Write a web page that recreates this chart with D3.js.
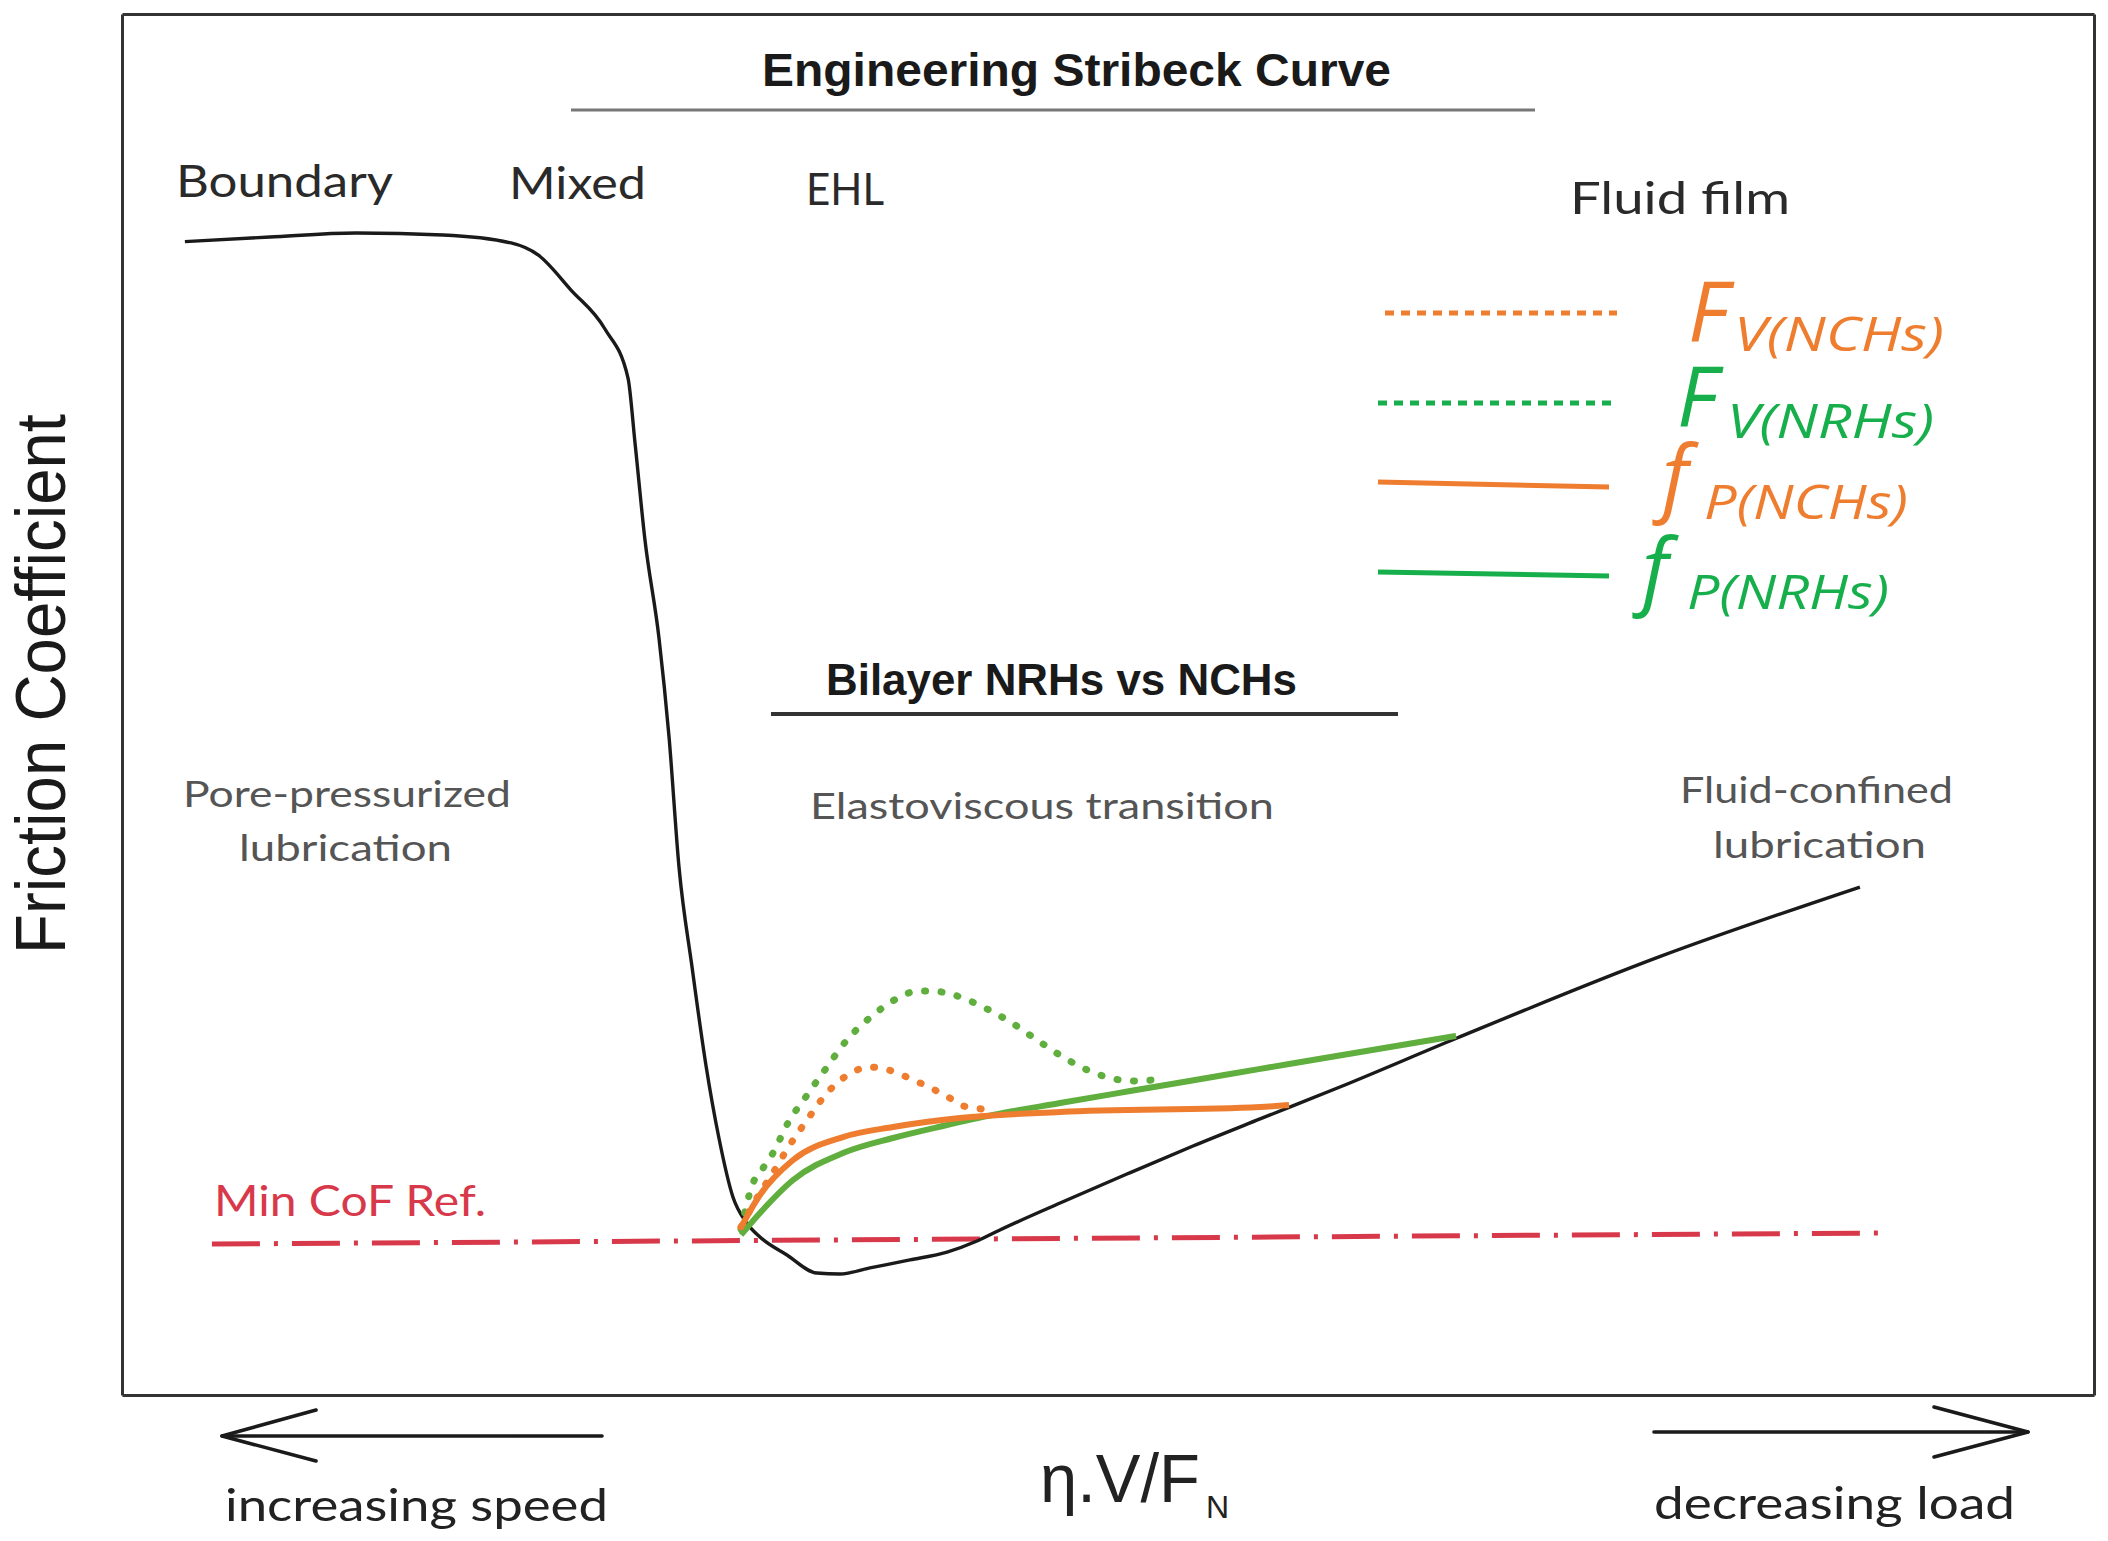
<!DOCTYPE html>
<html>
<head>
<meta charset="utf-8">
<script src="https://cdn.jsdelivr.net/npm/d3@7"></script>
<style>
html,body{margin:0;padding:0;background:#fff;}
svg{display:block;}
</style>
</head>
<body>
<svg id="chart" width="2108" height="1541"></svg>
<script>
// ---------------- DATA (x: relative η·V/F_N 0–100, y: relative friction coefficient 0–100) ----------------
const stribeckCurve = [[3.19,83.52],[7.5,83.85],[11.87,84.14],[16.28,84.00],[19.73,83.42],[21.10,82.55],[22.77,80.01],[24.49,77.19],[25.66,73.64],[26.01,69.01],[26.52,61.91],[27.23,54.82],[27.74,47.65],[28.25,38.16],[28.90,31.06],[29.61,23.90],[30.27,18.61],[30.98,14.34],[31.64,12.53],[32.35,11.44],[33.72,10.14],[35.24,8.83],[36.41,8.76],[37.93,9.20],[39.96,9.78],[41.84,10.35],[43.36,11.15],[44.52,11.95],[47.57,13.90],[50.96,16.00],[54.31,18.03],[57.71,19.99],[61.76,22.30],[67.70,25.85],[77.94,31.72],[88.13,36.78]];
const fvNCHs = [[31.39,12.17],[32.35,14.63],[33.01,16.08],[33.77,17.89],[34.74,19.91],[35.75,21.87],[37.07,23.39],[37.83,23.75],[38.69,23.61],[39.55,23.17],[40.37,22.66],[41.89,21.58],[42.65,20.93],[44.27,20.64]];
const fvNRHs = [[31.39,12.02],[32.00,15.35],[32.51,16.44],[33.01,17.52],[33.77,19.70],[34.74,21.72],[35.75,23.75],[36.76,25.71],[38.03,27.44],[39.45,28.82],[40.31,29.25],[41.13,29.25],[41.99,29.04],[43.66,28.10],[45.13,26.94],[46.55,25.56],[47.97,24.26],[49.59,23.17],[51.27,22.74],[52.79,22.88]];
const fpNCHs = [[31.34,12.02],[32.35,14.48],[34.03,17.02],[36.56,18.68],[39.10,19.41],[42.49,20.06],[47.57,20.49],[57.71,20.85],[59.18,21.00]];
const fpNRHs = [[31.39,11.59],[32.35,13.18],[34.03,15.57],[36.56,17.52],[39.10,18.61],[41.63,19.48],[44.17,20.28],[47.57,21.14],[51.12,22.01],[56.19,23.24],[59.18,23.97],[67.65,26.00]];
const minCofRef = [[4.56,10.93],[89.15,11.73]];

const legendSymbols = ["F","F","f","f"];
const legendSubscripts = ["V(NCHs)","V(NRHs)","P(NCHs)","P(NRHs)"];
const regimeLabels = ["Boundary","Mixed","EHL","Fluid film"];
const mechanismLabels = [["Pore-pressurized","lubrication"],["Elastoviscous transition"],["Fluid-confined","lubrication"]];

// ---------------- LAYOUT ----------------
const svg = d3.select("#chart");
const frame = {left:122, top:14, right:2094, bottom:1395};
const x = d3.scaleLinear().domain([0,100]).range([frame.left, frame.right]);
const y = d3.scaleLinear().domain([0,100]).range([frame.bottom, frame.top]);

const ORANGE = "#EE7D2F", GREEN_C = "#5FAE3E", GREEN_L = "#17AF4C", RED = "#D8394A", INK = "#262626";
const calib = "Lato, 'Open Sans', sans-serif";
const narrow = "'Liberation Sans Narrow', 'Liberation Sans', Arial, sans-serif";
const ital = "'Open Sans', 'Noto Sans', sans-serif";

// Frame via axes (no ticks)
const axes = svg.append("g").attr("class","frame");
axes.append("g").attr("transform",`translate(0,${frame.bottom})`).call(d3.axisBottom(x).tickValues([]).tickSizeOuter(0));
axes.append("g").attr("transform",`translate(0,${frame.top})`).call(d3.axisTop(x).tickValues([]).tickSizeOuter(0));
axes.append("g").attr("transform",`translate(${frame.left},0)`).call(d3.axisLeft(y).tickValues([]).tickSizeOuter(0));
axes.append("g").attr("transform",`translate(${frame.right},0)`).call(d3.axisRight(y).tickValues([]).tickSizeOuter(0));
axes.selectAll(".domain").attr("stroke","#333").attr("stroke-width",3);

function txt(t, px, py, opt){
  const e = svg.append("text").attr("x",px).attr("y",py).text(t)
    .attr("font-family",opt.font||calib).attr("font-size",opt.size)
    .attr("fill",opt.fill||INK).attr("font-weight",opt.weight||"normal")
    .attr("font-style",opt.style||"normal");
  if(opt.width){ e.attr("textLength",opt.width).attr("lengthAdjust",opt.adjust||"spacingAndGlyphs"); }
  return e;
}

// Title + underline
txt("Engineering Stribeck Curve", 762, 86, {font:narrow, size:47, weight:"bold", width:629, fill:"#1a1a1a"});
svg.append("line").attr("x1",571).attr("x2",1535).attr("y1",110).attr("y2",110).attr("stroke","#777").attr("stroke-width",3);

// Regime labels
const regimePos = [[176,197,217],[509,199,137],[806,205,78],[1570,214,220]];
regimeLabels.forEach((t,i)=>txt(t, regimePos[i][0], regimePos[i][1], {size:45, width:regimePos[i][2], fill:"#2a2a2a"}));

// Bilayer subtitle + underline
txt("Bilayer NRHs vs NCHs", 826, 695, {font:narrow, size:45, weight:"bold", width:471, fill:"#1a1a1a"});
svg.append("line").attr("x1",771).attr("x2",1398).attr("y1",714).attr("y2",714).attr("stroke","#333").attr("stroke-width",4);

// Mechanism labels
const mechPos = [[[183,807,328],[239,861,213]],[[810,819,464]],[[1680,803,273],[1713,858,213]]];
mechanismLabels.forEach((lines,i)=>lines.forEach((t,j)=>txt(t, mechPos[i][j][0], mechPos[i][j][1], {size:37, width:mechPos[i][j][2], fill:"#555"})));

// Min CoF label
txt("Min CoF Ref.", 214, 1216, {size:42, width:272, fill:RED});

// Curves
const smooth = d3.line().x(d=>x(d[0])).y(d=>y(d[1])).curve(d3.curveMonotoneX);
const straight = d3.line().x(d=>x(d[0])).y(d=>y(d[1]));

svg.append("path").datum(minCofRef).attr("d",straight).attr("fill","none")
  .attr("stroke",RED).attr("stroke-width",5).attr("stroke-dasharray","48 14 4 14");

svg.append("path").datum(stribeckCurve).attr("d",smooth).attr("fill","none")
  .attr("stroke","#1a1a1a").attr("stroke-width",3.4).attr("stroke-linejoin","round");

svg.append("path").datum(fvNRHs).attr("d",smooth).attr("fill","none")
  .attr("stroke",GREEN_C).attr("stroke-width",7).attr("stroke-linecap","round").attr("stroke-dasharray","1 15.5");
svg.append("path").datum(fvNCHs).attr("d",smooth).attr("fill","none")
  .attr("stroke",ORANGE).attr("stroke-width",7).attr("stroke-linecap","round").attr("stroke-dasharray","1 15.5");
svg.append("path").datum(fpNRHs).attr("d",smooth).attr("fill","none")
  .attr("stroke",GREEN_C).attr("stroke-width",6);
svg.append("path").datum(fpNCHs).attr("d",smooth).attr("fill","none")
  .attr("stroke",ORANGE).attr("stroke-width",6);

// Legend: sample lines + one stacked label block
const legendColors = [ORANGE, GREEN_L, ORANGE, GREEN_L];
const legendDash = ["9 7","9 7",null,null];
const legendLinePos = [[1385,1617,313,313],[1378,1611,403,403],[1378,1609,482,487],[1378,1609,572,576]];
const legendMainPos = [[1688,342],[1677,427],[1662,506],[1642,599]];
const legendSubPos = [[1734,351,210],[1727,438,207],[1704,519,204],[1687,609,202]];
const legendText = svg.append("text").attr("font-family",ital).attr("font-style","italic");
legendSymbols.forEach((s,i)=>{
  const lp = legendLinePos[i];
  const l = svg.append("line").attr("x1",lp[0]).attr("x2",lp[1]).attr("y1",lp[2]).attr("y2",lp[3])
    .attr("stroke",legendColors[i]).attr("stroke-width",5);
  if(legendDash[i]) l.attr("stroke-dasharray",legendDash[i]);
  legendText.append("tspan").attr("x",legendMainPos[i][0]).attr("y",legendMainPos[i][1]).attr("font-size",84)
    .attr("fill",legendColors[i]).text(s);
  legendText.append("tspan").attr("x",legendSubPos[i][0]).attr("y",legendSubPos[i][1]).attr("font-size",48)
    .attr("fill",legendColors[i]).attr("textLength",legendSubPos[i][2]).attr("lengthAdjust","spacingAndGlyphs")
    .text(legendSubscripts[i]);
});

// Axis titles
svg.append("text").attr("transform","translate(65,954) rotate(-90)").text("Friction Coefficient")
  .attr("font-family","'Liberation Sans', Arial, sans-serif").attr("font-size",70).attr("fill","#1a1a1a")
  .attr("textLength",540).attr("lengthAdjust","spacingAndGlyphs");
const axT = svg.append("text").attr("font-family","'Liberation Sans', Arial, sans-serif").attr("fill","#222");
axT.append("tspan").attr("x",1040).attr("y",1502).attr("font-size",68).attr("textLength",160).attr("lengthAdjust","spacingAndGlyphs").text("η.V/F");
axT.append("tspan").attr("x",1206).attr("y",1518).attr("font-size",32).text("N");

// Direction arrows
const arrowG = svg.append("g").attr("fill","none").attr("stroke","#1a1a1a").attr("stroke-width",3.6).attr("stroke-linecap","round").attr("stroke-linejoin","round");
arrowG.append("line").attr("x1",602).attr("x2",222).attr("y1",1436).attr("y2",1436);
arrowG.append("path").attr("d","M316,1410 L222,1436 L316,1461");
arrowG.append("line").attr("x1",1654).attr("x2",2028).attr("y1",1432).attr("y2",1432);
arrowG.append("path").attr("d","M1934,1407 L2028,1432 L1934,1457");
txt("increasing speed", 225, 1521, {size:44, width:383, fill:"#222"});
txt("decreasing load", 1654, 1519, {size:44, width:361, fill:"#222"});
</script>
</body>
</html>
